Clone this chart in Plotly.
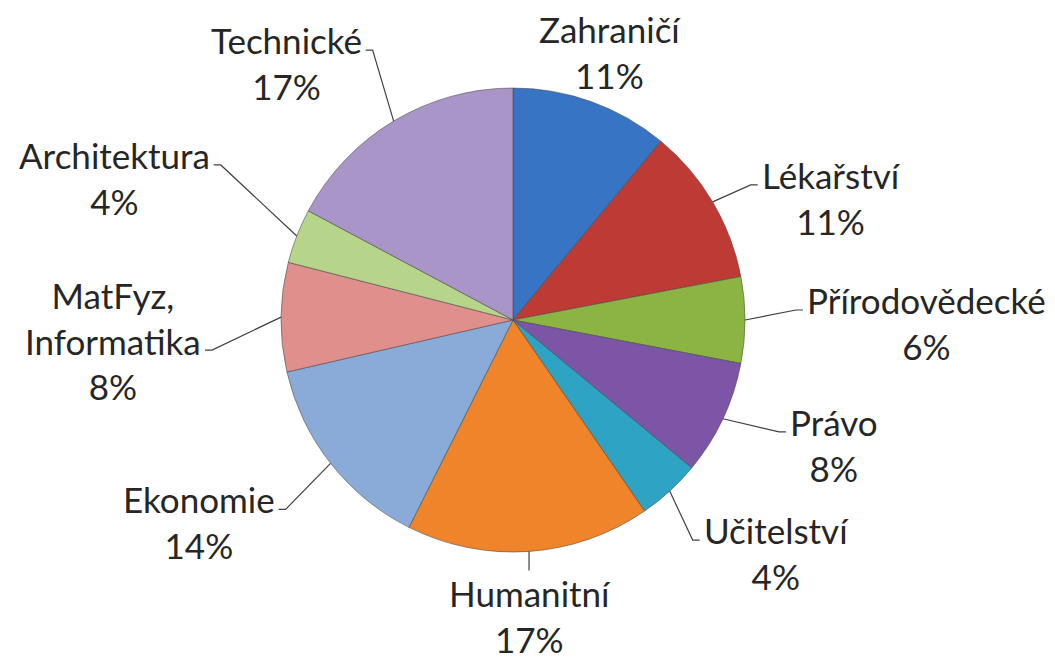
import math
import plotly.graph_objects as go

# ---- data ----
categories = ["Zahraničí", "Lékařství", "Přírodovědecké", "Právo", "Učitelství",
              "Humanitní", "Ekonomie", "MatFyz,<br>Informatika", "Architektura", "Technické"]
shares = [11, 11, 6, 8, 4.4, 17, 14, 7.6, 3.8, 17.2]
colors = ["#3874C4", "#BE3A34", "#8CB443", "#7D55A6", "#2EA3C4",
          "#F0842A", "#8AAAD8", "#E0908C", "#B6D48A", "#A995C8"]

# ---- layout / style ----
W, H = 1055, 659
CX, CY, R = 513, 320, 232          # pie centre & radius in px
FONT = "Lato"
FS = 35
TXT = "#262626"
LINE = "#404040"
TAIL, GAP = 7, 2

# per-label leader elbow offset from slice edge (px) and label mode
LABEL_STYLE = [
    (18, -50, "none"),
    (38, -17, "right"),
    (51, -10, "right"),
    (56, 13, "right"),
    (23, 49, "right"),
    (0, 19, "bottom"),
    (-45, 46, "left"),
    (-69, 33, "left"),
    (-76, -71, "left"),
    (-21, -71, "left"),
]


def px(x):
    return x / W


def py(y):
    return 1 - y / H


total = sum(shares)
fig = go.Figure(go.Pie(
    labels=[c.replace("<br>", " ") for c in categories],
    values=shares,
    sort=False,
    direction="clockwise",
    rotation=0,
    textinfo="none",
    hoverinfo="label+percent",
    marker=dict(colors=colors, line=dict(color="rgba(70,70,70,0.55)", width=1)),
    domain=dict(x=[(CX - R) / W, (CX + R) / W], y=[(H - CY - R) / H, (H - CY + R) / H]),
    showlegend=False,
))

annotations = []
shapes = []
cum = 0.0
for cat, val, (dx, dy, mode) in zip(categories, shares, LABEL_STYLE):
    mid = (cum + val / 2) / total * 2 * math.pi
    cum += val
    ex = CX + R * math.sin(mid)
    ey = CY - R * math.cos(mid)
    bx, by = ex + dx, ey + dy
    nlines = cat.count("<br>") + 2
    text = f"{cat}<br>{round(val / total * 100)}%"
    sp = FS * 1.3
    yoff = sp * (nlines - 1) / 2 - sp * ((nlines - 1) // 2) - 10
    if mode == "none":
        annotations.append(dict(x=px(bx), y=py(by), xref="paper", yref="paper",
                                text=text, showarrow=False, xanchor="center",
                                yanchor="middle", align="center"))
        continue
    if mode == "bottom":
        path = f"M {px(ex)} {py(ey)} L {px(bx)} {py(by)}"
        annotations.append(dict(x=px(bx + 1), y=py(by + 46), xref="paper", yref="paper",
                                text=text, showarrow=False, xanchor="center",
                                yanchor="middle", align="center"))
    else:
        sgn = 1 if mode == "right" else -1
        tx = bx + sgn * TAIL
        path = f"M {px(ex)} {py(ey)} L {px(bx)} {py(by)} L {px(tx)} {py(by)}"
        annotations.append(dict(x=px(bx + sgn * (TAIL + GAP)), y=py(by + yoff),
                                xref="paper", yref="paper", text=text, showarrow=False,
                                xanchor="left" if mode == "right" else "right",
                                yanchor="middle", align="center"))
    shapes.append(dict(type="path", path=path, xref="paper", yref="paper",
                       line=dict(color=LINE, width=1.2)))

fig.update_layout(
    width=W, height=H,
    margin=dict(l=0, r=0, t=0, b=0),
    paper_bgcolor="white",
    plot_bgcolor="white",
    font=dict(family=FONT, size=FS, color=TXT),
    annotations=annotations,
    shapes=shapes,
)

fig.write_html("out.html",
               config={"displayModeBar": False},
               post_script="document.body.style.margin='0';document.body.style.overflow='hidden';")
